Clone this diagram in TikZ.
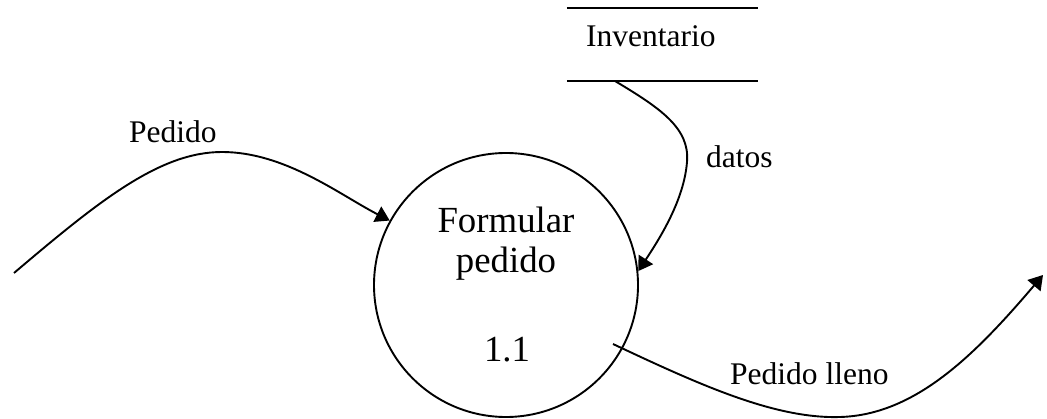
\documentclass[tikz,border=0pt]{standalone}
\usepackage{fontspec}
\setmainfont{Liberation Serif}
\usetikzlibrary{arrows.meta}
\begin{document}
\begin{tikzpicture}[x=1pt,y=-1pt,
  flow/.style={line width=1.9pt,-{Triangle[length=14pt,width=17pt]}},
  lbl/.style={anchor=base west,inner sep=0pt,font=\fontsize{31.5}{38}\selectfont},
  proctext/.style={anchor=base,inner sep=0pt,font=\fontsize{36.8}{44}\selectfont},
  storeline/.style={line width=2.7pt}]
\useasboundingbox (0,0) rectangle (1047,419);
% data store
\node[minimum width=191pt,minimum height=72.5pt,inner sep=0pt] (inv) at (662.5,44.5) {};
\draw[storeline] (inv.north west) -- (inv.north east);
\draw[storeline] (inv.south west) -- (inv.south east);
\node[lbl] (invt) at (586,46.7) {Inventario};
% process
\node[circle,draw,line width=1.9pt,minimum size=264pt,inner sep=0pt] (p) at (506,285) {};
\node[proctext] (p1) at (506,233) {Formular};
\node[proctext] (p2) at (506,273) {pedido};
\node[proctext] (p3) at (507,362) {1.1};
% free ends
\coordinate (s1) at (14,273);
\coordinate (d1) at (615,81);
\coordinate (o1) at (613,344);
\coordinate (o2) at (1043,275);
% flows
\draw[flow] (s1) .. controls (100,200) and (160,152) .. (222,152)
  .. controls (285,152) and (340,195) .. (p.151.5);
\draw[flow] (d1) .. controls (660,108) and (690,128) .. (687,162)
  .. controls (684,200) and (660,238) .. (p.6.5);
\draw[flow] (o1) .. controls (700,385) and (775,419) .. (840,417)
  .. controls (915,415) and (975,355) .. (o2);
% labels
\node[lbl] (l1) at (129,143) {Pedido};
\node[lbl] (l2) at (706,168) {datos};
\node[lbl] (l3) at (730,385) {Pedido lleno};
\end{tikzpicture}
\end{document}
